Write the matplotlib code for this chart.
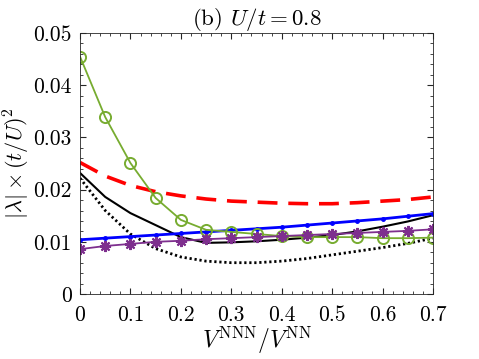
import matplotlib
matplotlib.use("Agg")
import matplotlib.pyplot as plt
from matplotlib.ticker import MultipleLocator

plt.rcParams['font.family'] = 'serif'
plt.rcParams['font.serif'] = ['cmr10']
plt.rcParams['mathtext.fontset'] = 'cm'
plt.rcParams['axes.formatter.use_mathtext'] = True

# x grid for all curves
v_ratio = [0, 0.05, 0.1, 0.15, 0.2, 0.25, 0.3, 0.35, 0.4, 0.45, 0.5, 0.55, 0.6, 0.65, 0.7]

# series values
green_circ = [0.0455, 0.0339, 0.0251, 0.0184, 0.0142, 0.0123, 0.0119, 0.0115,
              0.0111, 0.0109, 0.0109, 0.0109, 0.0107, 0.0107, 0.0108]
purple_star = [0.0086, 0.0092, 0.0096, 0.0100, 0.0102, 0.0105, 0.0107, 0.0109,
               0.0111, 0.0113, 0.0115, 0.0117, 0.0119, 0.0121, 0.0124]
blue_dot = [0.0104, 0.0107, 0.0110, 0.0113, 0.0116, 0.0119, 0.0122, 0.0125,
            0.0128, 0.0132, 0.0136, 0.0140, 0.0144, 0.0149, 0.0154]
red_dash = [0.0252, 0.0226, 0.0208, 0.0196, 0.0188, 0.0182, 0.0178, 0.0176,
            0.0174, 0.0173, 0.0173, 0.0175, 0.0178, 0.0181, 0.0186]
black_solid = [0.0232, 0.0186, 0.0155, 0.0132, 0.0109, 0.0098, 0.0099, 0.0101,
               0.0104, 0.0108, 0.0113, 0.0120, 0.0129, 0.0139, 0.0151]
black_dot = [0.0222, 0.0160, 0.0115, 0.0087, 0.0071, 0.0063, 0.0060, 0.0060,
             0.0063, 0.0068, 0.0075, 0.0082, 0.0089, 0.0097, 0.0107]

fig = plt.figure(figsize=(4.79, 3.59), dpi=100)
ax = fig.add_axes([0.167, 0.181, 0.737, 0.727])

ax.plot(v_ratio, red_dash, color='red', lw=2.6, dashes=(5.5, 3))
ax.plot(v_ratio, black_dot, color='black', lw=2.0, dashes=(0.8, 1.0))
ax.plot(v_ratio, black_solid, color='black', lw=1.5)
ax.plot(v_ratio, blue_dot, color='blue', lw=2.0, marker='.', ms=5)
ax.plot(v_ratio, green_circ, color='#77AC30', lw=1.3, marker='o', ms=8,
        mfc='none', mew=1.4)
ax.plot(v_ratio, purple_star, color='#7E2F8E', lw=1.3, marker=(8, 2, 0), ms=8,
        mew=1.5)

ax.set_xlim(0, 0.7)
ax.set_ylim(0, 0.05)
ax.xaxis.set_minor_locator(MultipleLocator(0.02))
ax.yaxis.set_minor_locator(MultipleLocator(0.002))
ax.set_xticks([0, 0.1, 0.2, 0.3, 0.4, 0.5, 0.6, 0.7])
ax.set_xticklabels(['0', '0.1', '0.2', '0.3', '0.4', '0.5', '0.6', '0.7'])
ax.set_yticks([0, 0.01, 0.02, 0.03, 0.04, 0.05])
ax.set_yticklabels(['0', '0.01', '0.02', '0.03', '0.04', '0.05'])
ax.tick_params(which='both', direction='in', top=True, right=True,
               colors='#262626', labelcolor='black', labelsize=15.5)
ax.tick_params(axis='x', which='major', length=4, pad=8)
ax.tick_params(axis='y', which='major', length=4, pad=6)
ax.tick_params(which='minor', length=2)
for s in ax.spines.values():
    s.set_color('#262626')
    s.set_linewidth(0.6)

ax.set_xlabel(r'$V^{\rm NNN}/V^{\rm NN}$', fontsize=17, labelpad=0)
ax.set_ylabel(r'$|\lambda|\times(t/U)^2$', fontsize=16, labelpad=1)
ax.set_title(r'(b) $U/t=0.8$', fontsize=16.5, pad=5)

fig.savefig('out.png', dpi=100)
